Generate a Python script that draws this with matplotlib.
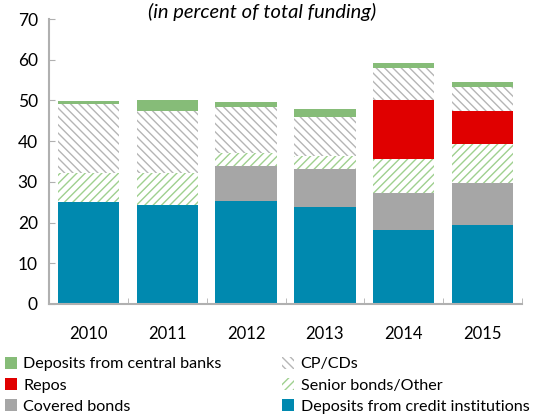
import matplotlib
matplotlib.use("Agg")
import matplotlib.pyplot as plt
import numpy as np

plt.rcParams['font.family'] = ['Lato', 'DejaVu Sans']
plt.rcParams['hatch.linewidth'] = 1.0

years = ["2010", "2011", "2012", "2013", "2014", "2015"]
dep_credit = [25.1, 24.3, 25.2, 23.9, 18.2, 19.5]
covered = [0.0, 0.0, 8.7, 9.3, 9.0, 10.2]
senior = [7.1, 7.8, 3.1, 3.2, 8.3, 9.6]
repos = [0.0, 0.0, 0.0, 0.0, 14.6, 8.0]
cpcd = [16.9, 15.2, 11.5, 9.6, 7.9, 6.0]
dep_cb = [0.7, 2.8, 1.0, 1.9, 1.3, 1.2]

fig = plt.figure(figsize=(5.57, 4.16), dpi=100)
ax = fig.add_axes([49/557, 1-304/416, (522-49)/557, (304-19)/416])

x = np.arange(len(years))
w = 0.78
bottom = np.zeros(len(years))

series = [
    ("Deposits from credit institutions", dep_credit, dict(color="#0089AF")),
    ("Covered bonds", covered, dict(color="#A6A6A6")),
    ("Senior bonds/Other", senior, dict(facecolor="white", edgecolor="#9FD08F", hatch="////", linewidth=0)),
    ("Repos", repos, dict(color="#E00000")),
    ("CP/CDs", cpcd, dict(facecolor="white", edgecolor="#B5B5B5", hatch="\\\\\\\\", linewidth=0)),
    ("Deposits from central banks", dep_cb, dict(color="#86BC78")),
]
handles = {}
for name, vals, style in series:
    vals = np.array(vals)
    b = ax.bar(x, vals, w, bottom=bottom, label=name, **style)
    handles[name] = b
    bottom += vals

ax.set_xlim(-0.5, len(years) - 0.5)
ax.set_ylim(0, 70)
ax.set_yticks(range(0, 71, 10))
ax.set_xticks(x)
ax.set_xticklabels(years)
ax.set_xticks(np.arange(-0.5, len(years)), minor=True)
ax.tick_params(axis='x', which='major', length=0, pad=16, labelsize=12)
ax.tick_params(axis='x', which='minor', length=4, color="#B0B0B0", direction='in')
ax.tick_params(axis='y', length=4, color="#B0B0B0", direction='in', labelsize=12.5, pad=8)
for s in ["top", "right"]:
    ax.spines[s].set_visible(False)
for s in ["left", "bottom"]:
    ax.spines[s].set_color("#B0B0B0")
    ax.spines[s].set_linewidth(1.5)

fig.text(262/557, 1-12/416, "(in percent of total funding)", ha="center", va="center",
         fontsize=14.5, style="italic")

order = ["Deposits from central banks", "Repos", "Covered bonds",
         "CP/CDs", "Senior bonds/Other", "Deposits from credit institutions"]
fig.legend([handles[n] for n in order], order, ncol=2, loc="upper left",
           bbox_to_anchor=(0.0, 1-352/416), frameon=False, fontsize=11.6,
           handlelength=0.75, handleheight=0.75, handletextpad=0.4,
           columnspacing=3.75, labelspacing=0.42, borderaxespad=0, borderpad=0.3)

fig.savefig("out.png", dpi=100)
